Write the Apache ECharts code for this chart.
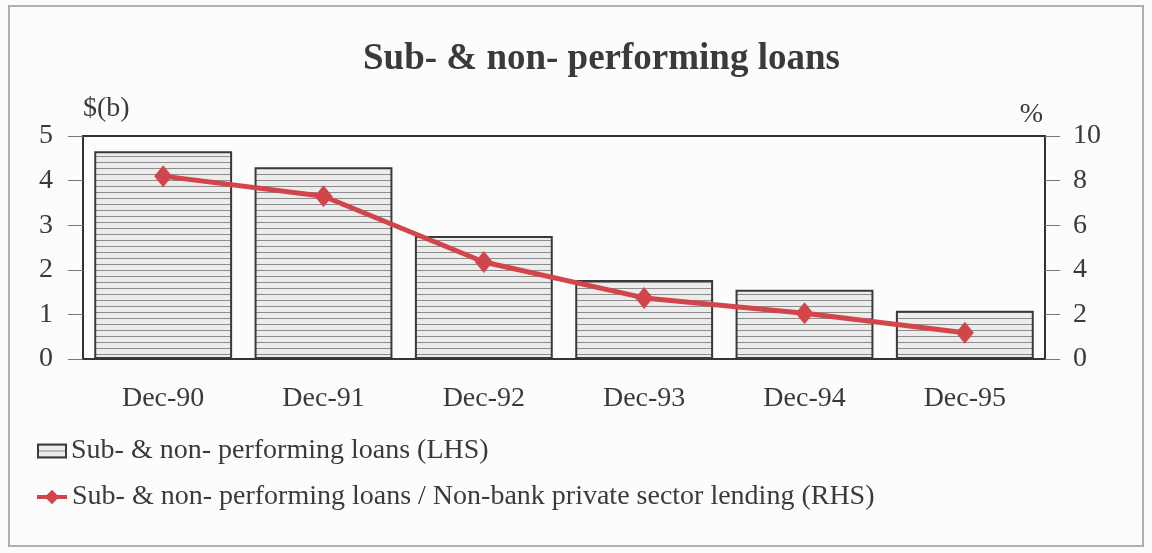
<!DOCTYPE html>
<html>
<head>
<meta charset="utf-8">
<script src="https://cdn.jsdelivr.net/npm/echarts@6/dist/echarts.min.js"></script>
<style>
html,body{margin:0;padding:0;background:#fcfcfc;}
#chart{width:1152px;height:553px;}
</style>
</head>
<body>
<div id="chart"></div>
<script>
const categories = ['Dec-90', 'Dec-91', 'Dec-92', 'Dec-93', 'Dec-94', 'Dec-95'];
const loansValues = [4.66, 4.30, 2.76, 1.77, 1.55, 1.08];
const ratioValues = [8.2, 7.3, 4.35, 2.74, 2.05, 1.18];
const leftAxisName = '$(b)';
const rightAxisName = '%';
const titleText = 'Sub- & non- performing loans';
const barSeriesName = 'Sub- & non- performing loans (LHS)';
const lineSeriesName = 'Sub- & non- performing loans / Non-bank private sector lending (RHS)';

const FONT = "'Liberation Serif', 'Times New Roman', serif";
const TXT = '#3a3a3a';
const RED = '#d2454a';

function makePattern() {
  const c = document.createElement('canvas');
  c.width = 8; c.height = 6;
  const ctx = c.getContext('2d');
  ctx.fillStyle = '#ececec';
  ctx.fillRect(0, 0, 8, 6);
  ctx.fillStyle = '#8c8c8c';
  ctx.fillRect(0, 0, 8, 1);
  return c;
}
const pattern = { image: makePattern(), repeat: 'repeat' };

const chart = echarts.init(document.getElementById('chart'), null, { renderer: 'canvas' });
chart.setOption({
  backgroundColor: '#fcfcfc',
  animation: false,
  textStyle: { fontFamily: FONT, color: TXT },
  title: {
    text: titleText,
    left: 358,
    top: 36,
    textStyle: { fontFamily: FONT, fontSize: 37, fontWeight: 'bold', color: '#3a3a3a' }
  },
  graphic: [{
    type: 'rect',
    shape: { x: 9, y: 6, width: 1134, height: 540 },
    style: { fill: 'none', stroke: '#b0b0b0', lineWidth: 2 },
    silent: true,
    z: 0
  }],
  legend: [{
    data: [barSeriesName],
    left: 37,
    top: 437,
    padding: 0,
    itemWidth: 28,
    itemHeight: 13,
    icon: 'rect',
    textStyle: { fontFamily: FONT, fontSize: 28, color: TXT }
  }, {
    data: [lineSeriesName],
    left: 35,
    top: 483,
    padding: 0,
    itemWidth: 30,
    itemHeight: 18,
    lineStyle: { width: 4 },
    textStyle: { fontFamily: FONT, fontSize: 28, color: TXT }
  }],
  grid: {
    left: 83, right: 107, top: 136, bottom: 194,
    show: true, borderColor: '#333', borderWidth: 2, backgroundColor: 'transparent',
    containLabel: false
  },
  xAxis: {
    type: 'category',
    data: categories,
    axisLine: { lineStyle: { color: '#333', width: 2 } },
    axisTick: { alignWithLabel: true, length: 12, lineStyle: { color: '#bbb' } },
    axisLabel: { margin: 26, fontFamily: FONT, fontSize: 28, color: TXT },
    splitLine: { show: false }
  },
  yAxis: [{
    type: 'value',
    min: 0, max: 5, interval: 1,
    name: leftAxisName,
    nameLocation: 'end',
    nameGap: 13,
    nameTextStyle: { fontFamily: FONT, fontSize: 28, color: TXT, align: 'left', padding: [0, 0, 0, 0] },
    axisLine: { show: true, lineStyle: { color: '#333', width: 2 } },
    axisTick: { show: true, length: 15, lineStyle: { color: '#777' } },
    axisLabel: { margin: 30, fontFamily: FONT, fontSize: 28, color: TXT },
    splitLine: { show: false }
  }, {
    type: 'value',
    min: 0, max: 10, interval: 2,
    name: rightAxisName,
    nameLocation: 'end',
    nameGap: 7,
    nameTextStyle: { fontFamily: FONT, fontSize: 28, color: TXT, align: 'right', padding: [0, 2, 0, 0] },
    position: 'right',
    axisLine: { show: true, lineStyle: { color: '#333', width: 2 } },
    axisTick: { show: true, length: 15, lineStyle: { color: '#777' } },
    axisLabel: { margin: 28, fontFamily: FONT, fontSize: 28, color: TXT },
    splitLine: { show: false }
  }],
  series: [{
    name: barSeriesName,
    type: 'bar',
    data: loansValues,
    yAxisIndex: 0,
    barCategoryGap: '14%',
    itemStyle: { color: pattern, borderColor: '#3a3a3a', borderWidth: 2 }
  }, {
    name: lineSeriesName,
    type: 'line',
    data: ratioValues,
    yAxisIndex: 1,
    symbol: 'diamond',
    symbolSize: [18, 22],
    lineStyle: { color: RED, width: 5 },
    itemStyle: { color: RED },
    z: 5
  }]
});
</script>
</body>
</html>
